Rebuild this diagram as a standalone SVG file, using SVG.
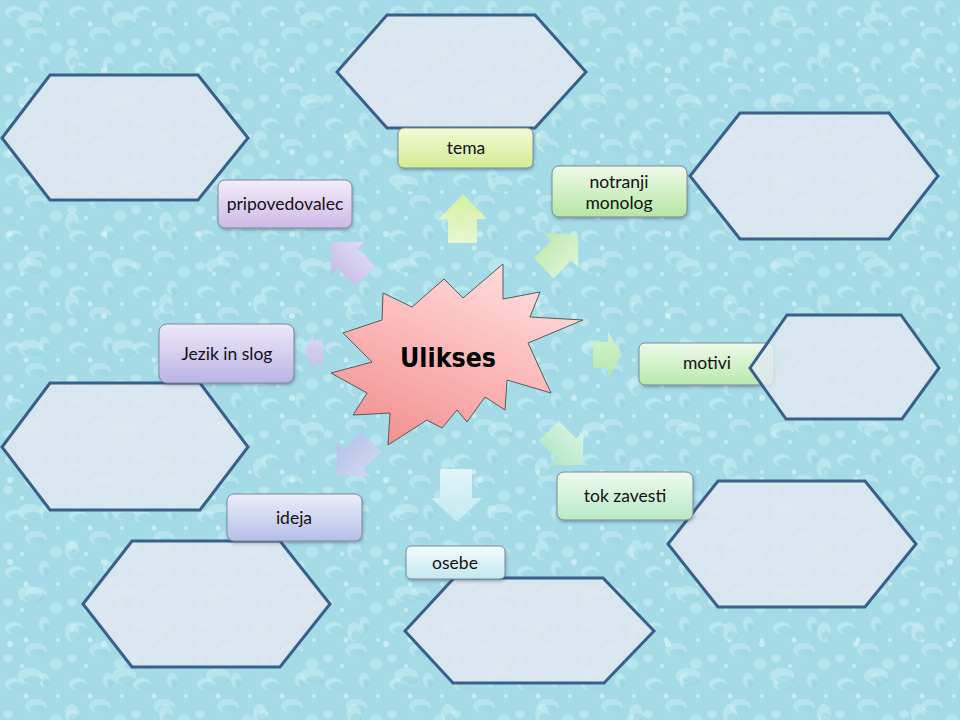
<svg xmlns="http://www.w3.org/2000/svg" width="960" height="720" viewBox="0 0 960 720">
<defs>
  <pattern id="drops" width="64" height="56" patternUnits="userSpaceOnUse">
    <rect width="64" height="56" fill="#a4dbe7"/>
    <ellipse cx="14" cy="12" rx="9" ry="6" fill="#c4ecf3" opacity="0.7"/>
    <ellipse cx="16" cy="14" rx="7" ry="4" fill="#8ccfdf" opacity="0.5"/>
    <ellipse cx="44" cy="8" rx="5" ry="7" fill="#c8eef5" opacity="0.6"/>
    <ellipse cx="46" cy="11" rx="3" ry="4" fill="#86cadb" opacity="0.5"/>
    <ellipse cx="36" cy="34" rx="11" ry="7" fill="#c0eaf2" opacity="0.65"/>
    <ellipse cx="38" cy="37" rx="8" ry="4" fill="#89cddd" opacity="0.45"/>
    <ellipse cx="8" cy="42" rx="5" ry="4" fill="#c6edf4" opacity="0.6"/>
    <ellipse cx="56" cy="48" rx="6" ry="5" fill="#c2ebf3" opacity="0.6"/>
    <circle cx="26" cy="24" r="2.5" fill="#d6f3f8" opacity="0.7"/>
    <circle cx="58" cy="24" r="2" fill="#d6f3f8" opacity="0.7"/>
    <circle cx="22" cy="50" r="2" fill="#d6f3f8" opacity="0.7"/>
  </pattern>
  <pattern id="drops2" width="94" height="82" patternUnits="userSpaceOnUse">
    <ellipse cx="30" cy="20" rx="12" ry="8" fill="#d2f2f7" opacity="0.45"/>
    <ellipse cx="33" cy="24" rx="9" ry="4" fill="#7fc4d6" opacity="0.35"/>
    <ellipse cx="72" cy="58" rx="7" ry="10" fill="#d2f2f7" opacity="0.45"/>
    <ellipse cx="74" cy="62" rx="5" ry="5" fill="#7fc4d6" opacity="0.3"/>
    <circle cx="10" cy="70" r="3" fill="#e0f7fa" opacity="0.6"/>
  </pattern>
  <filter id="shadow" x="-10%" y="-10%" width="130%" height="140%">
    <feDropShadow dx="1" dy="2" stdDeviation="1.5" flood-color="#335" flood-opacity="0.35"/>
  </filter>
  <linearGradient id="gTema" x1="0" y1="0" x2="0" y2="1"><stop offset="0" stop-color="#f4fad8"/><stop offset="1" stop-color="#d2ec92"/></linearGradient>
  <linearGradient id="gNot" x1="0" y1="0" x2="0" y2="1"><stop offset="0" stop-color="#eefaea"/><stop offset="1" stop-color="#b6e6a2"/></linearGradient>
  <linearGradient id="gMot" x1="0" y1="0" x2="0" y2="1"><stop offset="0" stop-color="#eefaea"/><stop offset="1" stop-color="#b8e8ac"/></linearGradient>
  <linearGradient id="gTok" x1="0" y1="0" x2="0" y2="1"><stop offset="0" stop-color="#eefbf0"/><stop offset="1" stop-color="#b8e8c4"/></linearGradient>
  <linearGradient id="gOse" x1="0" y1="0" x2="0" y2="1"><stop offset="0" stop-color="#f2fcfd"/><stop offset="1" stop-color="#c2e8ef"/></linearGradient>
  <linearGradient id="gIde" x1="0" y1="0" x2="0" y2="1"><stop offset="0" stop-color="#eceef9"/><stop offset="1" stop-color="#b6bee8"/></linearGradient>
  <linearGradient id="gJez" x1="0" y1="0" x2="0" y2="1"><stop offset="0" stop-color="#eee8f9"/><stop offset="1" stop-color="#bcb4e6"/></linearGradient>
  <linearGradient id="gPri" x1="0" y1="0" x2="0" y2="1"><stop offset="0" stop-color="#f4ecfa"/><stop offset="1" stop-color="#cfb8e8"/></linearGradient>
  <linearGradient id="gStar" x1="0.8" y1="0" x2="0.2" y2="1"><stop offset="0" stop-color="#ffe0e0"/><stop offset="0.5" stop-color="#fbb8b8"/><stop offset="1" stop-color="#f29090"/></linearGradient>
  <linearGradient id="aTema" x1="0" y1="0" x2="0" y2="1"><stop offset="0" stop-color="#d8f29a"/><stop offset="1" stop-color="#eef9cf"/></linearGradient>
  <linearGradient id="aNot" x1="0" y1="0" x2="0" y2="1"><stop offset="0" stop-color="#c2eaa8"/><stop offset="1" stop-color="#e4f6d8"/></linearGradient>
  <linearGradient id="aMot" x1="0" y1="0" x2="0" y2="1"><stop offset="0" stop-color="#d8f4cc"/><stop offset="1" stop-color="#b8e8a8"/></linearGradient>
  <linearGradient id="aTok" x1="0" y1="0" x2="0" y2="1"><stop offset="0" stop-color="#e0f6e4"/><stop offset="1" stop-color="#b2e6be"/></linearGradient>
  <linearGradient id="aOse" x1="0" y1="0" x2="0" y2="1"><stop offset="0" stop-color="#e8f8fa"/><stop offset="1" stop-color="#c4ebf1"/></linearGradient>
  <linearGradient id="aIde" x1="0" y1="0" x2="0" y2="1"><stop offset="0" stop-color="#d4d8f2"/><stop offset="1" stop-color="#b8bee8"/></linearGradient>
  <linearGradient id="aJez" x1="0" y1="0" x2="0" y2="1"><stop offset="0" stop-color="#ddd6f4"/><stop offset="1" stop-color="#c6bcea"/></linearGradient>
  <linearGradient id="aPri" x1="0" y1="0" x2="0" y2="1"><stop offset="0" stop-color="#c8b8e8"/><stop offset="1" stop-color="#e8dcf6"/></linearGradient>
</defs>
<style>
  .hex { fill: #e0e7f0; fill-opacity: 0.9; stroke: #38608a; stroke-width: 3; stroke-linejoin: miter; }
  .box { stroke: #7c8a99; stroke-width: 1; filter: url(#shadow); }
  .lbl { font-family: Lato, "Open Sans", "Liberation Sans", sans-serif; font-size: 17.5px; fill: #111; text-anchor: middle; }
  .arr { opacity: 0.9; }
  .title { font-family: "DejaVu Sans", Verdana, sans-serif; font-weight: bold; font-size: 27px; fill: #000; text-anchor: middle; }
</style>

<rect width="960" height="720" fill="url(#drops)"/>
<rect width="960" height="720" fill="url(#drops2)"/>

<!-- hexagons (drawn below labels) -->
<g id="hex-tema"><polygon class="hex" points="337,72 387,15 535,15 586,72 535,128 387,128"/></g>
<g id="hex-notranji"><polygon class="hex" points="690,176 740,113 889,113 938,176 889,239 740,239"/></g>
<g id="hex-pripovedovalec"><polygon class="hex" points="2,138 50,75 198,75 248,138 198,200 50,200"/></g>
<g id="hex-jezik"><polygon class="hex" points="2,447 50,383 200,383 248,447 200,510 50,510"/></g>
<g id="hex-tok"><polygon class="hex" points="668,544 718,481 865,481 916,544 865,607 718,607"/></g>
<g id="hex-ideja"><polygon class="hex" points="83,604 132,541 280,541 330,604 280,667 132,667"/></g>
<g id="hex-osebe"><polygon class="hex" points="405,631 454,578 603,578 654,631 604,683 453,683"/></g>

<!-- connectors: block arrows -->
<g id="connectors">
  <polygon class="arr" fill="url(#aTema)" points="448,243 448,219 439,219 463,194 487,219 477,219 477,243"/>
  <polygon class="arr" fill="url(#aNot)" transform="translate(560,252) rotate(-45)" points="-23,-14 2,-14 2,-24 25,0 2,24 2,14 -23,14"/>
  <polygon class="arr" fill="url(#aMot)" points="593,342 608,342 608,332 622,355 608,378 608,368 593,368"/>
  <polygon class="arr" fill="url(#aTok)" transform="translate(565,447) rotate(45)" points="-23,-14 2,-14 2,-24 25,0 2,24 2,14 -23,14"/>
  <polygon class="arr" fill="url(#aOse)" points="440,469 472,469 472,498 482,498 457,522 431,498 440,498"/>
  <polygon class="arr" fill="url(#aIde)" transform="translate(355,458) rotate(135)" points="-23,-14 2,-14 2,-24 25,0 2,24 2,14 -23,14"/>
  <polygon class="arr" fill="url(#aJez)" points="323,340 313,340 313,333 305,352 313,372 313,364 323,364"/>
  <polygon class="arr" fill="url(#aPri)" transform="translate(349,260) rotate(-135)" points="-23,-14 2,-14 2,-24 25,0 2,24 2,14 -23,14"/>
</g>

<!-- central star -->
<g id="ulikses">
  <polygon fill="url(#gStar)" stroke="#5a5a5a" stroke-width="1" stroke-linejoin="miter"
    points="503,264 503,299 540,292 530,317 583,320 528,343 551,393 507,380 505,410 485,397 467,422 457,410 442,428 427,420 388,445 390,413 353,415 367,393 331,373 372,362 343,333 382,320 383,293 412,307 444,279 463,298"/>
  <text class="title" x="448" y="367" textLength="96" lengthAdjust="spacingAndGlyphs">Ulikses</text>
</g>

<!-- label boxes -->
<g id="tema">
  <rect class="box" x="398" y="128" width="135" height="40" rx="6" fill="url(#gTema)"/>
  <text class="lbl" x="466" y="154">tema</text>
</g>
<g id="notranji-monolog">
  <rect class="box" x="552" y="166" width="135" height="51" rx="7" fill="url(#gNot)"/>
  <text class="lbl" x="619" y="188">notranji</text>
  <text class="lbl" x="619" y="209">monolog</text>
</g>
<g id="motivi">
  <rect class="box" x="639" y="343" width="135" height="42" rx="6" fill="url(#gMot)"/>
  <text class="lbl" x="707" y="369">motivi</text>
</g>
<g id="tok-zavesti">
  <rect class="box" x="557" y="472" width="136" height="48" rx="7" fill="url(#gTok)"/>
  <text class="lbl" x="625" y="502">tok zavesti</text>
</g>
<g id="osebe">
  <rect class="box" x="406" y="546" width="99" height="33" rx="5" fill="url(#gOse)"/>
  <text class="lbl" x="455" y="569">osebe</text>
</g>
<g id="ideja">
  <rect class="box" x="227" y="494" width="135" height="47" rx="7" fill="url(#gIde)"/>
  <text class="lbl" x="294" y="524">ideja</text>
</g>
<g id="jezik-in-slog">
  <rect class="box" x="159" y="324" width="135" height="59" rx="8" fill="url(#gJez)"/>
  <text class="lbl" x="227" y="360">Jezik in slog</text>
</g>
<g id="pripovedovalec">
  <rect class="box" x="218" y="180" width="134" height="48" rx="7" fill="url(#gPri)"/>
  <text class="lbl" x="285" y="210">pripovedovalec</text>
</g>

<!-- hexagon drawn over the motivi box -->
<g id="hex-motivi"><polygon class="hex" points="750,368 787,315 901,315 939,368 902,419 786,419" style="fill-opacity:0.85"/></g>
</svg>
